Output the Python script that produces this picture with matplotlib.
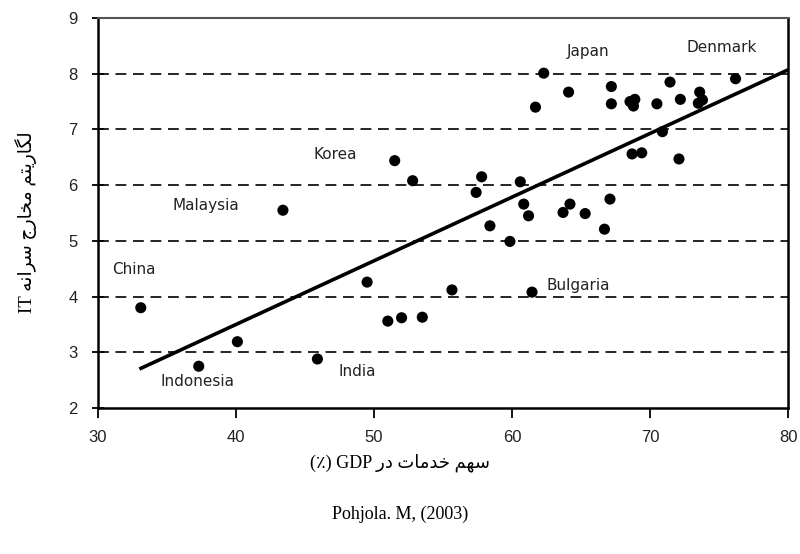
import numpy as np
import matplotlib
matplotlib.use("Agg")
import matplotlib.pyplot as plt

# =============================================================================
# Data
# =============================================================================

services_share = [33.1, 37.3, 40.1, 43.4, 45.9, 49.5, 51.0, 52.0, 53.5, 51.5,
                  52.8, 55.65, 57.4, 57.8, 58.4, 59.85, 60.6, 60.85, 61.2, 61.45,
                  61.7, 62.3, 63.7, 64.1, 64.2, 65.3, 66.7, 67.1, 67.2, 67.2,
                  68.55, 68.8, 68.9, 68.7, 69.4, 70.5, 70.9, 71.45, 72.1, 72.2,
                  73.6, 73.8, 73.5, 76.2]
log_it_spend   = [3.80, 2.75, 3.19, 5.55, 2.88, 4.26, 3.56, 3.62, 3.63, 6.44,
                  6.08, 4.12, 5.87, 6.15, 5.27, 4.99, 6.06, 5.66, 5.45, 4.08,
                  7.40, 8.01, 5.51, 7.67, 5.66, 5.49, 5.21, 5.75, 7.77, 7.46,
                  7.50, 7.42, 7.54, 6.56, 6.58, 7.46, 6.96, 7.85, 6.47, 7.54,
                  7.67, 7.53, 7.47, 7.91]

fit_x = [33.0, 80.0]
fit_y = [2.70, 8.07]

countries = ["China", "Indonesia", "Malaysia", "India", "Korea", "Bulgaria", "Japan", "Denmark"]

x_ticks = [30, 40, 50, 60, 70, 80]
y_ticks = [2, 3, 4, 5, 6, 7, 8, 9]
grid_levels = [3, 4, 5, 6, 7, 8]

# label anchor points (data coords) and alignment
label_pos = {"China": (32.6, 4.48, "center"),
             "Indonesia": (37.2, 2.48, "center"),
             "Malaysia": (37.8, 5.64, "center"),
             "India": (48.8, 2.65, "center"),
             "Korea": (47.2, 6.55, "center"),
             "Bulgaria": (62.5, 4.20, "left"),
             "Japan": (65.5, 8.40, "center"),
             "Denmark": (75.2, 8.47, "center")}

# =============================================================================
# Minimal Persian shaping (matplotlib 3.10 has no complex text layout)
# =============================================================================

FORMS = {  # isolated, final, initial, medial
    "\u0627": ("\uFE8D", "\uFE8E", None, None),
    "\u0631": ("\uFEAD", "\uFEAE", None, None),
    "\u062F": ("\uFEA9", "\uFEAA", None, None),
    "\u0644": ("\uFEDD", "\uFEDE", "\uFEDF", "\uFEE0"),
    "\u06AF": ("\uFB92", "\uFB93", "\uFB94", "\uFB95"),
    "\u06CC": ("\uFBFC", "\uFBFD", "\uFBFE", "\uFBFF"),
    "\u062A": ("\uFE95", "\uFE96", "\uFE97", "\uFE98"),
    "\u0645": ("\uFEE1", "\uFEE2", "\uFEE3", "\uFEE4"),
    "\u062E": ("\uFEA5", "\uFEA6", "\uFEA7", "\uFEA8"),
    "\u062C": ("\uFE9D", "\uFE9E", "\uFE9F", "\uFEA0"),
    "\u0633": ("\uFEB1", "\uFEB2", "\uFEB3", "\uFEB4"),
    "\u0646": ("\uFEE5", "\uFEE6", "\uFEE7", "\uFEE8"),
    "\u0647": ("\uFEE9", "\uFEEA", "\uFEEB", "\uFEEC"),
}


def shape_fa(s):
    out = []
    for i, ch in enumerate(s):
        if ch not in FORMS:
            out.append(ch)
            continue
        prev = s[i - 1] if i > 0 else " "
        nxt = s[i + 1] if i + 1 < len(s) else " "
        iso, fin, ini, med = FORMS[ch]
        join_prev = prev in FORMS and FORMS[prev][2] is not None
        join_next = nxt in FORMS and ini is not None
        if join_prev and join_next:
            out.append(med)
        elif join_prev:
            out.append(fin)
        elif join_next:
            out.append(ini)
        else:
            out.append(iso)
    return "".join(reversed(out))


x_label = "(\u066A) GDP " + shape_fa("سهم خدمات در")
y_label = "IT " + shape_fa("لگاریتم مخارج سرانه")
source = "Pohjola. M, (2003)"

# =============================================================================
# Plot
# =============================================================================

fig = plt.figure(figsize=(8, 5.54), dpi=100)
ax = fig.add_axes([0.1225, 0.2635, 0.8625, 0.704])

for lev in grid_levels:
    ax.axhline(lev, color="black", lw=1.2, ls=(0, (6.5, 4)), zorder=1)

ax.plot(fit_x, fit_y, color="black", lw=2.6, solid_capstyle="butt", zorder=2)
ax.scatter(services_share, log_it_spend, s=64, color="black", edgecolors="none", zorder=3)

for name in countries:
    lx, ly, ha = label_pos[name]
    ax.text(lx, ly, name, ha=ha, va="center", fontsize=11, color="#222222",
            family="DejaVu Sans")

ax.set_xlim(30, 80)
ax.set_ylim(2, 9)
ax.set_xticks(x_ticks)
ax.set_yticks(y_ticks)
ax.tick_params(axis="x", direction="out", length=7, width=1.3, pad=9,
               labelsize=12, labelcolor="#222222")
ax.tick_params(axis="y", direction="inout", length=9, width=1.3, pad=10,
               labelsize=12, labelcolor="#222222")
for lab in ax.get_xticklabels() + ax.get_yticklabels():
    lab.set_family("Liberation Sans")

for side in ["left", "bottom", "right"]:
    ax.spines[side].set_linewidth(1.8)
ax.spines["top"].set_linewidth(1.5)
ax.spines["top"].set_color("#555555")

fig.text(0.50, 1 - 463 / 554, x_label, ha="center", va="center", fontsize=13,
         family=["Liberation Serif", "DejaVu Sans"])
fig.text(0.032, 1 - 222 / 554, y_label, ha="center", va="center", fontsize=13.5,
         rotation=90, family=["Liberation Serif", "DejaVu Sans"])
fig.text(0.50, 1 - 514 / 554, source, ha="center", va="center", fontsize=13,
         family="Liberation Serif")

fig.savefig("out.png", dpi=100)
